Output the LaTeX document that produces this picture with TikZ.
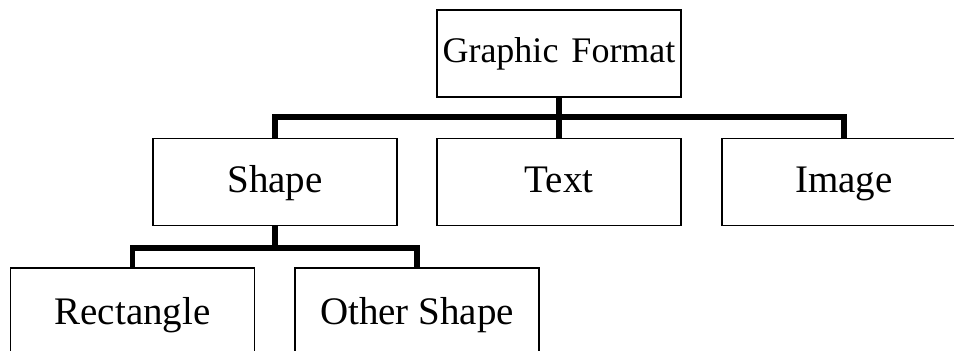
\documentclass[tikz,border=0pt]{standalone}
\usepackage{fontspec}
\setmainfont{Liberation Serif}
\begin{document}
\begin{tikzpicture}[x=1pt,y=1pt,
  box/.style={draw=black,line width=1.5pt,minimum width=244pt,minimum height=87pt,inner sep=0pt,
    text height=27pt,text depth=5pt,font=\fontsize{39}{42}\selectfont},
  topbox/.style={box,text height=25pt,text depth=6pt,font=\fontsize{36}{39}\selectfont},
  lowbox/.style={box,minimum height=96pt,text height=27pt,text depth=9pt},
  conn/.style={line width=5.5pt,draw=black}]
\useasboundingbox (0,0) rectangle (954,351);
\clip (0,0) rectangle (954,351);
\node[topbox] (gf) at (559,297.5) {Graphic\hspace{13pt}Format};
\node[box] (shape) at (275,169) {Shape};
\node[box] (text) at (559,169) {Text};
\node[box] (image) at (844,169) {Image};
\node[lowbox] (rect) at (132.5,35) {Rectangle};
\node[lowbox] (other) at (417,35) {Other Shape};
\coordinate (b1) at (0,234);
\coordinate (b2) at (0,103);
\draw[conn] (gf.south) -- (gf.south |- b1);
\draw[conn] (shape.north) -- (shape.north |- b1) -- (image.north |- b1) -- (image.north);
\draw[conn] (text.north) -- (text.north |- b1);
\draw[conn] (shape.south) -- (shape.south |- b2);
\draw[conn] (rect.north) -- (rect.north |- b2) -- (other.north |- b2) -- (other.north);
\end{tikzpicture}
\end{document}
